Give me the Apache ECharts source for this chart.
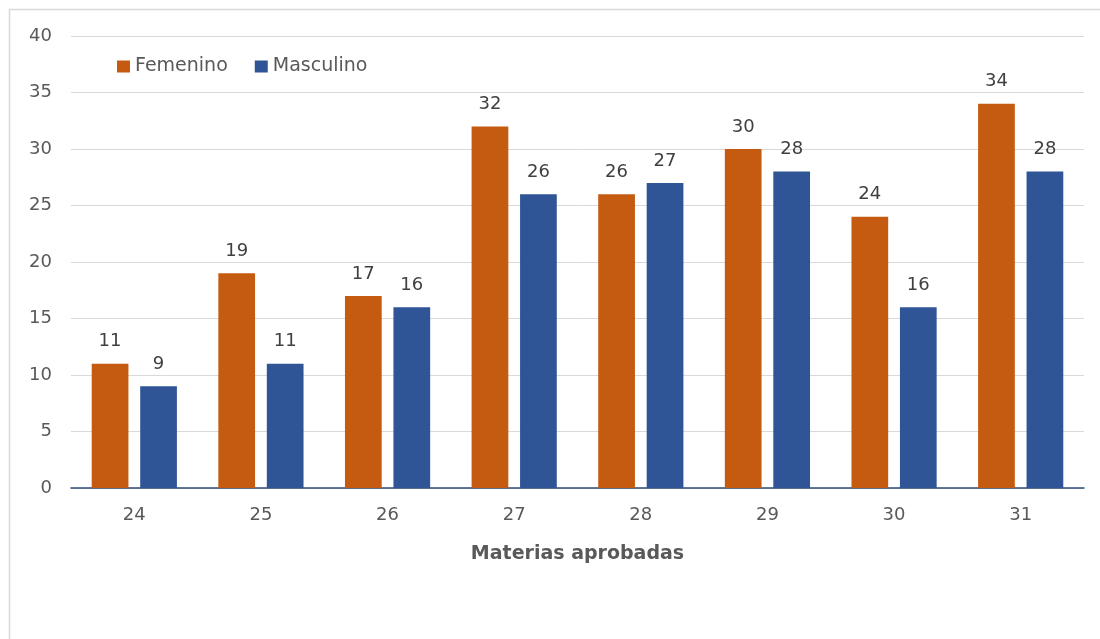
<!DOCTYPE html>
<html>
<head>
<meta charset="utf-8">
<script src="https://cdn.jsdelivr.net/npm/echarts@6/dist/echarts.min.js"></script>
<style>
html, body { margin: 0; padding: 0; background: #fff; overflow: hidden; }
#chart { width: 1100px; height: 639px; }
</style>
</head>
<body>
<div id="chart"></div>
<script>
const categories = ['24', '25', '26', '27', '28', '29', '30', '31']
const femenino = [11, 19, 17, 32, 26, 30, 24, 34]
const masculino = [9, 11, 16, 26, 27, 28, 16, 28]

const font = '"DejaVu Sans", sans-serif'
const chart = echarts.init(document.getElementById('chart'))

const option = {
	animation: false,
	textStyle: { fontFamily: font },
	graphic: [{
		type: 'polyline',
		shape: { points: [[9.5, 639], [9.5, 9.5], [1100, 9.5]] },
		style: { fill: 'none', stroke: '#d9d9d9', lineWidth: 1.5 },
		silent: true
	}],
	legend: {
		left: 117,
		top: 57,
		padding: 0,
		itemWidth: 13,
		itemHeight: 12,
		itemGap: 27,
		icon: 'rect',
		textStyle: { fontSize: 19, color: '#595959', fontFamily: font },
		data: ['Femenino', 'Masculino']
	},
	grid: {
		left: 71,
		right: 16,
		top: 36,
		bottom: 151,
		containLabel: false
	},
	xAxis: {
		type: 'category',
		data: categories,
		name: 'Materias aprobadas',
		nameLocation: 'middle',
		nameGap: 57,
		nameTextStyle: { fontSize: 19, fontWeight: 'bold', color: '#595959', fontFamily: font },
		axisLine: { lineStyle: { color: '#2e4a7a', width: 1.5 } },
		axisTick: { show: false },
		axisLabel: { fontSize: 18, color: '#595959', margin: 18, fontFamily: font }
	},
	yAxis: {
		type: 'value',
		min: 0,
		max: 40,
		interval: 5,
		axisLine: { show: false },
		axisTick: { show: false },
		splitLine: { lineStyle: { color: '#d9d9d9', width: 1 } },
		axisLabel: { fontSize: 18, color: '#595959', margin: 19, fontFamily: font }
	},
	series: [
		{
			name: 'Femenino',
			type: 'bar',
			data: femenino,
			barWidth: '29%',
			barGap: '32%',
			itemStyle: { color: '#c55a11' },
			label: { show: true, position: 'top', distance: 13, fontSize: 18, color: '#404040', fontFamily: font }
		},
		{
			name: 'Masculino',
			type: 'bar',
			data: masculino,
			barWidth: '29%',
			itemStyle: { color: '#2f5597' },
			label: { show: true, position: 'top', distance: 13, fontSize: 18, color: '#404040', fontFamily: font }
		}
	]
}

chart.setOption(option, true)
</script>
</body>
</html>
